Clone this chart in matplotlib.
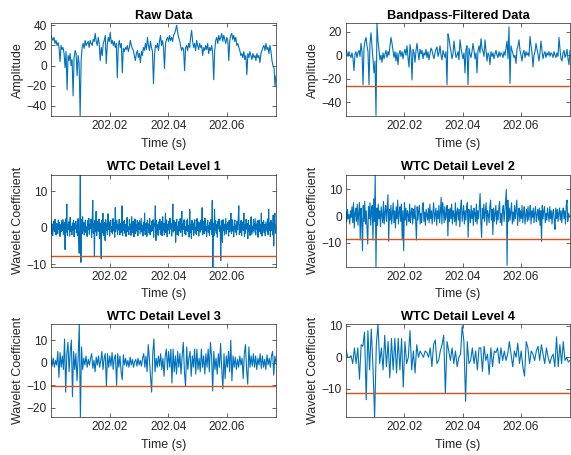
"""Raw signal, bandpass output and wavelet detail levels with spike thresholds."""

import matplotlib

matplotlib.use("Agg")
import matplotlib.pyplot as plt
import numpy as np

plt.rcParams["font.family"] = ["Liberation Sans", "DejaVu Sans"]

BLUE = "#0072BD"
ORANGE = "#D95319"
INK = "#262626"

T_START = 202.0
T_END = 202.0768

# values (approximate, left to right)
raw = [
    30, 27, 25, 28, 22, 25, 20, 23, 18, 4, 20, 16, 18, 12, -2,
    14, -24, 10, 5, 12, 0, 6, -30, 8, 15, 12, -10, 10, 2, -50,
    5, 18, 22, 17, 25, 20, 22, 24, 18, 25, 22, 20, 26, 24, 32,
    24, 20, 28, 22, 5, 18, 10, 22, 25, 30, 2, 20, 28, 24, 33,
    22, 25, 20, 24, 18, 22, -12, 20, 25, 18, 22, -7, 17, 14, 18,
    16, 20, 14, 18, 25, 20, 17, 15, 10, 5, 12, 15, 8, 12, 3,
    14, 10, 18, 15, 22, 16, 28, 20, 15, 24, 18, 14, -18, 10, 20,
    18, 22, 15, 24, 30, 20, 25, 18, -3, 22, 26, 28, 24, 30, 25,
    28, 24, 30, 32, 35, 40, 34, 28, 25, 20, 15, 18, 16, -5, 18,
    20, 15, 22, 18, 28, 35, 24, 18, 22, 15, 25, 20, 16, 22, 18,
    20, 10, 18, 15, 20, 16, 22, 12, 18, 15, 20, 12, -14, 15, 25,
    28, 22, 30, 25, 28, 32, 24, 30, 26, 22, 28, 25, 5, 25, 30,
    32, 26, 30, 24, 28, 20, 22, 18, 15, 10, 12, 8, 14, 6, 10,
    -9, 12, 8, 14, 10, 6, 12, 8, 10, 5, 12, 8, 10, 3, 12,
    15, 18, 20, 15, 22, 16, 18, 12, 20, 14, 5, 0, -2, -20, -10,
]

bandpass = [
    5, 2, -1, 3, 0, -2, 2, -3, -13, 1, 3, -2, 2, 4, -1,
    10, 3, -25, 6, 12, 15, 8, 3, -25, 10, 19, 8, -3, -15, -5,
    -51, 27, 12, 4, -4, 0, -6, 2, -3, 1, 4, -2, 3, 0, 8,
    15, 10, 4, -2, 3, -5, 2, -8, 1, 4, -1, 3, -3, 2, 5,
    0, 8, -2, -10, 9, 3, -21, 5, 2, -6, 4, 10, 2, -4, 5,
    1, 4, -3, 2, 0, 5, -2, 3, -4, 1, 6, 4, 0, -3, 2,
    5, 7, -1, 2, 8, 0, -4, 4, 1, -2, 3, -25, 18, 14, 8,
    3, -3, 1, 12, 4, -2, 0, 3, -4, 13, 6, 1, -3, 2, -15,
    5, 8, -25, 6, 1, -2, 3, 10, 4, -3, 2, -15, 4, 8, 2,
    14, 6, 3, -1, 13, 4, -5, 2, 0, -8, 3, -1, 2, -3, 1,
    4, 0, -2, 3, -1, 2, 1, -2, 3, 0, 6, 12, -3, 24, -24,
    8, 4, 1, -2, 0, -7, 5, 8, 13, 4, 0, -5, 2, 4, -2,
    3, 0, 2, -1, 16, 8, 2, -10, 0, 3, 10, 5, 1, -5, 2,
    12, 4, -3, 1, 3, -2, 2, 0, 3, -1, 2, 1, -2, 3, 0,
    -2, 2, -1, 15, 5, -3, -5, 2, 4, -2, 1, 5, -3, -8, 4,
]
bandpass_thr = -26

level1 = [
    2.0, -1.5, 1.0, -2.2, 0.5, 1.8, -1.0, 2.3, -0.8, -2.0, 1.2, 0.3, -1.6, 2.1, -0.5, 1.4, -2.4, 0.8, -1.1, 1.9,
    -0.7, 2.2, -1.8, 0.6, 1.5, -6.0, 2.4, -1.2, 6.5, -2.1, 0.9, -0.4, 1.7, -2.3, 2.8, -1.0, 0.4, -1.9, 1.3, -0.6,
    2.0, -2.5, 1.1, -0.3, 1.8, -1.4, 0.7, -2.2, 2.5, -3.0, -7.0, 1.6, 15.0, -9.5, 2.2, -1.7, 3.0, -0.9, 1.4, -2.0,
    0.8, 2.1, -1.3, 0.2, -2.4, 1.9, -0.6, 2.6, -1.8, 1.0, -0.2, 2.3, -2.7, 0.9, 7.5, -1.5, 1.2, -8.0, 2.0, -1.1,
    4.5, -2.2, 0.6, 1.7, -1.0, 2.4, -2.9, 1.3, -0.5, -8.5, 2.0, -1.4, 4.0, -2.1, 0.7, 1.5, -3.5, 2.2, -0.8, 1.1,
    -1.9, 3.8, -0.4, 1.6, -2.3, 0.9, 2.0, -1.2, 0.3, -1.7, 2.5, -0.9, 1.4, -2.6, 5.5, -1.0, 0.5, 2.1, -1.8, 0.8,
    -0.6, 2.3, -2.0, 1.2, -1.4, 0.4, 6.0, -2.2, 1.7, -0.7, 2.0, -1.5, 0.9, -2.4, 1.3, 2.8, -1.1, 0.2, -1.9, 2.2,
    -0.5, 1.0, -2.1, 3.0, -1.3, 0.6, 1.8, -2.5, 0.3, 2.4, -1.6, 0.8, -0.9, 2.0, -2.2, 1.4, -0.4, 1.9, -1.7, 0.5,
    2.6, -1.2, 0.7, -2.3, 1.5, -0.8, 4.0, -1.9, 0.9, 1.3, -2.4, 2.1, -0.3, 1.0, -1.5, 2.5, -2.0, 0.6, -1.1, 1.8,
    -0.7, 2.2, -2.6, 1.1, 0.4, 6.0, -3.5, 2.0, -1.3, 0.8, -2.1, 1.6, -0.5, 2.4, -1.8, 0.2, 1.7, -2.2, 3.0, -0.9,
    1.2, -2.0, 0.5, 4.0, -1.4, 2.1, -2.5, 0.9, -0.6, 1.8, -1.7, 2.6, -0.3, 1.1, -2.3, 0.7, 6.5, -1.2, 2.0, -0.8,
    1.5, -4.0, 0.8, 2.3, -1.9, 0.4, -2.2, 1.7, -0.9, 2.5, -1.3, 0.6, 4.5, -2.4, 1.0, -0.5, 2.2, -1.6, 0.3, -2.0,
    1.9, -0.7, 2.4, -1.1, 0.5, -2.6, 5.0, -1.4, 0.9, -3.0, 2.0, -0.4, 1.3, -2.1, 0.7, 2.2, -1.5, 0.1, -1.9, 2.5,
    -0.8, 1.6, -2.3, 0.9, 1.4, -1.2, 2.1, -0.6, 5.5, -2.0, 0.4, 1.8, -1.6, 2.6, -0.9, 0.3, -2.4, 1.1, 2.0, -1.3,
    0.6, -2.1, 1.5, -0.5, 2.3, -1.8, 7.5, -11.0, 1.2, -2.2, 5.0, -0.7, 2.0, -1.5, 0.8, -2.6, 1.7, -0.3, 2.4, -1.0,
    0.5, -9.0, 1.9, -1.4, -4.0, 2.2, -0.8, 1.0, -2.0, 0.3, 2.6, -1.7, 0.9, -0.4, 1.5, -2.3, 2.0, -1.1, 0.6, 4.0,
    -1.6, 2.2, -0.9, 0.4, -2.5, 1.3, 2.1, -1.2, 0.7, -2.0, 1.8, -0.6, 2.4, 6.0, -1.9, 0.8, -1.3, 2.0, -2.2, 0.5,
    1.6, -0.7, 4.0, -2.4, 0.9, -1.5, 2.3, -0.3, 1.1, -3.0, 2.0, -1.0, 0.6, -2.1, 1.7, 3.0, -1.8, 0.4, -0.9, 2.2,
    -1.3, 0.7, 2.5, -2.0, 1.0, -0.5, 1.9, -2.6, 0.3, 2.1, -1.1, 0.8, -1.7, 4.0, -2.3, 1.4, -0.6, 2.0, -1.4, 0.9,
    -2.2, 1.6, 0.2, -1.0, 2.4, -1.9, 5.0, -0.7, 1.3, -2.5, 2.0, -0.8, 1.1, -2.0, 3.5, -5.0, 2.2, 4.0, -1.5, 0.8,
]
level1_thr = -7.7

level2 = [
    1.5, -2.0, 2.5, -1.0, 0.5, -3.0, 2.0, -0.5, 3.5, -2.5, 5.0, -4.5, 1.0, 3.0, -2.0, 4.5, -3.5, 1.5, 5.0, -9.0,
    3.0, -1.5, -13.0, 4.0, -2.0, 5.5, -3.0, 2.0, -4.0, -10.5, 3.5, -1.0, 5.0, -3.5, 2.5, 4.0, -9.0, 6.5, -2.0, 15.5,
    -19.0, 3.0, -3.5, 4.5, -1.0, 2.0, -4.0, 3.5, 0.5, -2.5, 5.5, -3.0, 1.5, 4.0, -2.0, 3.0, 8.0, -9.5, 2.5, -1.5,
    4.0, -3.0, 1.0, 5.0, -2.5, 2.0, -4.5, 3.5, -1.0, 6.0, -3.0, 1.5, 3.5, -2.0, 4.5, -9.0, 2.0, -13.0, 5.0, -1.5,
    3.0, -3.5, 2.0, 0.5, -2.0, 4.5, -2.5, 1.5, 3.0, -3.0, 2.5, -1.0, 4.0, -2.0, -9.0, 3.5, -1.5, 2.0, 4.0, -3.0,
    1.0, -2.5, 3.5, 5.0, -2.0, 1.5, -3.5, 2.5, 0.5, -1.5, 3.0, -2.5, 4.5, -1.0, 2.0, -3.0, 1.5, 5.0, -2.0, 0.5,
    3.0, -3.5, 2.0, -1.0, 4.0, -2.5, 1.5, 7.0, -3.0, 5.0, 2.0, -2.5, 3.5, -1.5, 1.0, 4.0, -7.5, 2.5, -2.0, 3.0,
    -1.0, 4.5, -3.0, 2.0, 0.5, -2.0, 5.0, -3.5, 1.5, 3.0, -1.5, 2.5, -4.0, 3.5, 6.0, -2.0, 1.0, 4.0, -3.0, 2.0,
    -1.5, 3.5, 5.0, -8.0, 2.5, 0.5, -2.5, 4.0, -1.0, 2.0, -3.5, 3.0, 1.0, -2.0, 4.5, -3.0, 2.0, -1.0, 3.5, 8.5,
    -2.5, -8.0, 3.0, -1.0, 4.5, -2.0, 1.5, 5.0, -3.5, 2.0, 0.5, -2.5, 3.5, 6.0, -1.5, 2.5, -7.0, 3.0, -2.0, 1.0,
    4.0, -3.0, 2.0, -1.5, 3.0, 5.5, -2.5, 1.0, -3.5, 2.5, 4.0, -2.0, 1.5, 6.0, 10.0, -18.5, 6.0, -2.0, 3.0, -1.5,
    2.0, 5.0, -3.0, 1.5, -2.0, 4.0, -1.0, 2.5, 6.0, -3.5, 1.0, 3.0, -2.0, 2.0, -1.0, 4.0, -2.5, 1.5, 3.5, -3.0,
    0.5, 2.5, -2.0, 3.5, -1.5, 1.0, 4.0, -3.0, 2.0, -0.5, 3.0, -2.5, 1.5, 3.5, -2.0, 0.5, 2.5, -1.5, 3.0, -3.5,
    2.0, -9.5, 4.0, -1.0, 2.0, 3.5, -2.5, 1.0, -1.5, 3.0, 0.5, -2.0, 3.5, -1.0, 2.0, -3.0, 1.5, 2.5, -2.0, -5.0,
    3.0, -1.0, 2.5, -2.0, 1.0, 3.0, -1.5, 2.0, -2.5, 1.5, 3.0, -1.0, 2.0, -3.0, 4.0, 6.0, -2.0, 1.0, 0.0, -0.5,
]
level2_thr = -8.7

level3 = [
    3.0, -1.5, 2.0, -2.0, 1.0, -1.0, 5.0, -6.5, 4.5, -2.0, 3.0, -3.0, 10.5, -13.0, 4.0, 9.0, -4.0, 5.0, 10.0, -15.0,
    5.0, -3.0, 4.0, -8.0, 2.0, 17.0, -24.0, 7.0, -3.0, 2.0, -1.0, 3.0, -2.0, 1.5, -1.0, 2.0, 4.0, -2.5, 1.0, -4.0,
    2.5, -1.0, 3.0, -2.0, 1.0, 5.0, -3.0, 2.0, 4.0, -10.5, 4.0, -2.0, 3.0, -1.5, 4.5, -3.0, 2.0, 3.5, -10.0, 4.0,
    -2.0, 3.0, -4.0, -7.5, 3.5, -1.0, 2.0, -1.5, 1.0, -2.0, 2.5, -1.0, 1.5, -2.0, 0.5, 1.5, -1.5, 2.0, -1.0, 1.0,
    -1.5, 2.0, 4.0, -2.0, 3.0, -4.0, 8.0, 2.0, -6.0, -13.0, 4.0, 10.5, -4.0, 2.0, -2.0, 3.0, -1.5, 4.0, -3.0, 2.0,
    -6.0, 3.0, 6.0, -3.0, 5.0, -2.0, 6.0, -9.0, 6.0, -4.0, 3.0, -5.0, 5.0, -2.0, 4.0, -5.0, 3.0, 9.0, -4.0, -10.5,
    7.0, -3.0, 2.0, 5.0, -6.0, 3.0, -2.0, 6.0, -5.0, 6.0, -3.0, 2.0, -4.0, 6.0, -2.0, 3.0, -5.0, 4.0, -2.0, 6.0,
    -4.0, 9.0, 3.0, -12.5, 5.0, -3.0, 2.0, -5.0, 4.0, -2.0, 8.5, -3.0, -11.5, 4.0, -7.0, 3.0, -2.0, 5.0, -4.0, 10.0,
    -8.0, 3.0, -2.0, 2.5, -3.0, 1.5, -2.0, 3.0, -1.0, 2.0, -7.0, 4.0, 8.0, -3.0, -9.5, 7.0, -2.0, 3.0, -1.5, 4.0,
    -2.0, 3.0, -3.0, 2.0, -1.0, 4.0, -2.5, 3.0, -2.0, 1.5, -3.0, 3.5, -1.0, 2.0, -2.0, 3.0, 5.0, -5.5, 3.0, 0.0,
]
level3_thr = -10.1

level4 = [
    2.5, 0, 0, 0.5, -2, 3, -2, 3, -7, 4, 3.5, 8, -13.5, 8.5, -4, 9, -3, -19, 4, 10.5,
    -2, 3, -4, 7, -3, 5, -6.5, 6, -4, 6, -5, 6, -4, 6, -9.5, 5, -2, 0, 8.5, -4,
    2, -5, 4, 0, 2, 1, 0, 2, 1.5, 0, 3, -3, 4, 5.5, -2, -1, 2, 4, 7, -11.5,
    5, 2, -1, 3, -2, 2, -3, 0, 1, 10, 5, -14, 5, -2, -1, 3, -2, 2, -4, 3,
    3, -4.5, 3.5, -1, 1, -5.5, 3, -3, 2, 1.5, 3, -2, 3, -1, 2, -1, 1, 5, 1, -3,
    2, 0, 4.5, -2, 2, -3, -6, 5, 3, -2, 2, 1, -1, 2, 3.5, -1, 4, 1, -2, 3,
    0, -2, 0, 1, -3, 6.5, -3, 4, -2, 5, -1, 0, -1.5, -1,
]
level4_thr = -11.4

# (series, threshold, title, ylabel, ylim, yticks)
panels = [
    (raw, None, "Raw Data", "Amplitude", (-50, 42), [-40, -20, 0, 20, 40]),
    (bandpass, bandpass_thr, "Bandpass-Filtered Data", "Amplitude", (-51.5, 27), [-40, -20, 0, 20]),
    (level1, level1_thr, "WTC Detail Level 1", "Wavelet Coefficient", (-10.7, 14.6), [-10, 0, 10]),
    (level2, level2_thr, "WTC Detail Level 2", "Wavelet Coefficient", (-19, 15.6), [-10, 0, 10]),
    (level3, level3_thr, "WTC Detail Level 3", "Wavelet Coefficient", (-24, 17), [-20, -10, 0, 10]),
    (level4, level4_thr, "WTC Detail Level 4", "Wavelet Coefficient", (-19, 10.5), [-10, 0, 10]),
]

W, H = 571, 455
col_x = [(51, 225), (346, 224)]
row_y = [(23.3, 116), (174.5, 266.7), (324.3, 417)]

fig = plt.figure(figsize=(W / 100, H / 100), dpi=100)

for k, (values, thr, title, ylabel, ylim, yticks) in enumerate(panels):
    r, c = divmod(k, 2)
    x0, w = col_x[c]
    top, bottom = row_y[r]
    ax = fig.add_axes([x0 / W, 1 - bottom / H, w / W, (bottom - top) / H])

    t = np.linspace(T_START, T_END, len(values))
    ax.plot(t, values, color=BLUE, lw=0.8)
    if thr is not None:
        ax.axhline(thr, color=ORANGE, lw=1.0)

    ax.set_xlim(T_START, T_END)
    ax.set_ylim(*ylim)
    ax.set_xticks([202.02, 202.04, 202.06])
    ax.set_xticklabels(["202.02", "202.04", "202.06"])
    ax.set_yticks(yticks)
    ax.tick_params(direction="in", length=3, width=0.5, colors=INK, labelsize=8.6,
                   top=True, right=True, pad=3)
    for sp in ax.spines.values():
        sp.set_linewidth(0.5)
        sp.set_color(INK)
    ax.set_title(title, fontsize=9.2, fontweight="bold", color="black", pad=3)
    ax.set_xlabel("Time (s)", fontsize=9, color=INK, labelpad=4)
    ax.set_ylabel(ylabel, fontsize=9, color=INK, labelpad=2)

fig.savefig("out.png", dpi=100)
